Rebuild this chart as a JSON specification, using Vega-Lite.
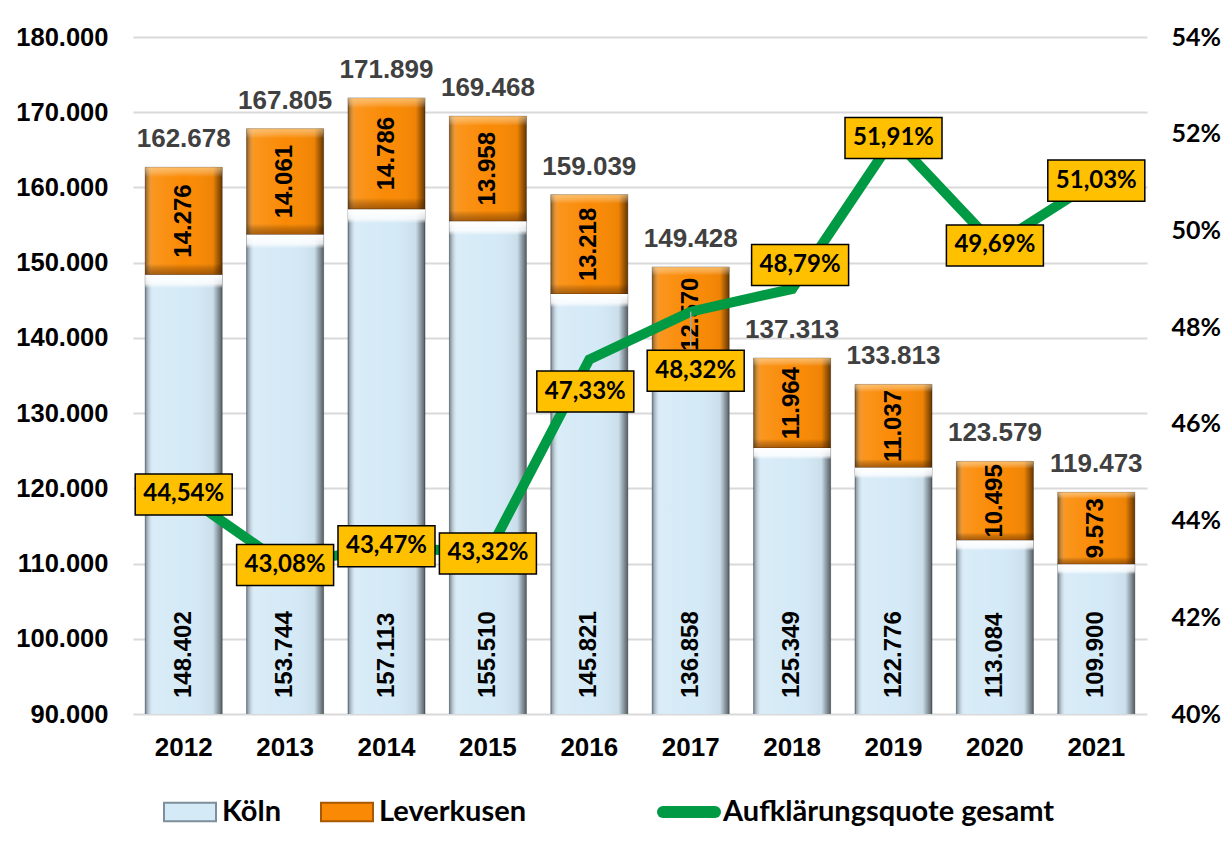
{
  "$schema": "https://vega.github.io/schema/vega-lite/v6.json",
  "width": 1014,
  "height": 677,
  "autosize": "none",
  "padding": {"left": 133, "top": 37, "right": 80, "bottom": 140},
  "background": "white",
  "config": {
    "locale": {"number": {"decimal": ",", "thousands": ".", "grouping": [3], "currency": ["", " €"]}},
    "view": {"stroke": null},
    "font": "Liberation Sans"
  },
  "datasets": {
    "bars": [
      {"year": "2012", "series": "Köln", "value": 148402}, {"year": "2012", "series": "Leverkusen", "value": 14276},
      {"year": "2013", "series": "Köln", "value": 153744}, {"year": "2013", "series": "Leverkusen", "value": 14061},
      {"year": "2014", "series": "Köln", "value": 157113}, {"year": "2014", "series": "Leverkusen", "value": 14786},
      {"year": "2015", "series": "Köln", "value": 155510}, {"year": "2015", "series": "Leverkusen", "value": 13958},
      {"year": "2016", "series": "Köln", "value": 145821}, {"year": "2016", "series": "Leverkusen", "value": 13218},
      {"year": "2017", "series": "Köln", "value": 136858}, {"year": "2017", "series": "Leverkusen", "value": 12570},
      {"year": "2018", "series": "Köln", "value": 125349}, {"year": "2018", "series": "Leverkusen", "value": 11964},
      {"year": "2019", "series": "Köln", "value": 122776}, {"year": "2019", "series": "Leverkusen", "value": 11037},
      {"year": "2020", "series": "Köln", "value": 113084}, {"year": "2020", "series": "Leverkusen", "value": 10495},
      {"year": "2021", "series": "Köln", "value": 109900}, {"year": "2021", "series": "Leverkusen", "value": 9573}
    ],
    "totals": [
      {"year": "2012", "total": 162678}, {"year": "2013", "total": 167805}, {"year": "2014", "total": 171899},
      {"year": "2015", "total": 169468}, {"year": "2016", "total": 159039}, {"year": "2017", "total": 149428},
      {"year": "2018", "total": 137313}, {"year": "2019", "total": 133813}, {"year": "2020", "total": 123579},
      {"year": "2021", "total": 119473}
    ],
    "quote": [
      {"year": "2012", "quote": 0.4454}, {"year": "2013", "quote": 0.4308}, {"year": "2014", "quote": 0.4347},
      {"year": "2015", "quote": 0.4332}, {"year": "2016", "quote": 0.4733}, {"year": "2017", "quote": 0.4832},
      {"year": "2018", "quote": 0.4879}, {"year": "2019", "quote": 0.5191}, {"year": "2020", "quote": 0.4969},
      {"year": "2021", "quote": 0.5103}
    ]
  },
  "encoding": {
    "x": {
      "field": "year", "type": "ordinal", "title": null,
      "scale": {"paddingInner": 0.24, "paddingOuter": 0.12},
      "axis": {"labelFont": "Liberation Sans", "labelFontSize": 26, "labelFontWeight": "bold", "labelColor": "black",
               "labelAngle": 0, "domain": false, "ticks": false, "labelPadding": 20}
    }
  },
  "layer": [
    {
      "data": {"name": "bars"},
      "layer": [
        {
          "mark": {"type": "bar", "clip": true},
          "encoding": {
            "y": {"field": "value", "type": "quantitative", "stack": "zero", "title": null,
                  "scale": {"domain": [90000, 180000], "nice": false, "zero": false},
                  "axis": {"values": [90000, 100000, 110000, 120000, 130000, 140000, 150000, 160000, 170000, 180000],
                           "format": ",d", "labelFont": "Liberation Sans", "labelFontSize": 25.5, "labelFontWeight": "bold",
                           "labelColor": "black", "domain": false, "ticks": false, "labelPadding": 25,
                           "grid": true, "gridColor": "#D9D9D9", "gridWidth": 2}},
            "order": {"field": "series", "type": "nominal", "sort": "ascending"},
            "fill": {"field": "series", "type": "nominal",
                     "scale": {"domain": ["Köln", "Leverkusen"], "range": ["#D5EAF7", "#FA8A05"]},
                     "legend": {"orient": "none", "legendX": 30, "legendY": 748, "direction": "horizontal", "title": null,
                                "padding": 0, "symbolType": "M-1,-0.36L1,-0.36L1,0.36L-1,0.36Z", "symbolSize": 2704,
                                "labelFont": "Lato", "labelFontSize": 29, "labelFontWeight": "bold", "labelColor": "black",
                                "columnPadding": 35, "labelOffset": 5, "labelLimit": 500,
                                "encode": {"symbols": {"update": {
                                  "fill": [{"test": "datum.value === 'Köln'", "value": "#D5EAF7"}, {"value": "#FA8A05"}],
                                  "stroke": [{"test": "datum.value === 'Köln'", "value": "#7E8F9C"}, {"value": "#A85800"}],
                                  "strokeWidth": {"value": 2}, "opacity": {"value": 1}}}}}}
          }
        },
        {
          "mark": {"type": "bar", "clip": true, "stroke": "rgba(0,0,0,0.3)", "strokeWidth": 1,
                   "fill": {"gradient": "linear", "x1": 0, "y1": 0, "x2": 1, "y2": 0,
                            "stops": [{"offset": 0, "color": "rgba(30,40,50,0.55)"},
                                      {"offset": 0.1, "color": "rgba(255,255,255,0.1)"},
                                      {"offset": 0.5, "color": "rgba(255,255,255,0)"},
                                      {"offset": 0.88, "color": "rgba(0,0,0,0.05)"},
                                      {"offset": 1, "color": "rgba(0,0,0,0.6)"}]}},
          "encoding": {
            "y": {"field": "value", "type": "quantitative", "stack": "zero"},
            "order": {"field": "series", "type": "nominal", "sort": "ascending"},
            "detail": {"field": "series"}
          }
        },
        {
          "mark": {"type": "bar", "clip": true},
          "encoding": {
            "y": {"field": "value", "type": "quantitative", "stack": "zero"},
            "order": {"field": "series", "type": "nominal", "sort": "ascending"},
            "detail": {"field": "series"},
            "fill": {
              "condition": {"test": "datum.series === 'Köln'",
                            "value": {"gradient": "linear", "x1": 0, "y1": 0, "x2": 0, "y2": 1,
                                      "stops": [{"offset": 0, "color": "rgba(255,255,255,1)"},
                                                {"offset": 0.008, "color": "rgba(255,255,255,0.8)"},
                                                {"offset": 0.012, "color": "rgba(255,255,255,0)"},
                                                {"offset": 1, "color": "rgba(255,255,255,0)"}]}},
              "value": {"gradient": "linear", "x1": 0, "y1": 0, "x2": 0, "y2": 1,
                        "stops": [{"offset": 0, "color": "rgba(255,220,160,0.6)"},
                                  {"offset": 0.09, "color": "rgba(255,255,255,0)"},
                                  {"offset": 0.9, "color": "rgba(0,0,0,0)"},
                                  {"offset": 1, "color": "rgba(90,40,0,0.5)"}]}
            }
          }
        },
        {
          "mark": {"type": "text", "angle": 270, "align": "center", "baseline": "middle",
                   "font": "Liberation Sans", "fontSize": 24, "fontWeight": "bold", "color": "black"},
          "encoding": {
            "y": {"field": "value", "type": "quantitative", "stack": "zero", "bandPosition": 0.5},
            "order": {"field": "series", "type": "nominal", "sort": "ascending"},
            "detail": {"field": "series"},
            "text": {"condition": {"test": "datum.series === 'Leverkusen'", "field": "value", "type": "quantitative", "format": ",d"}, "value": ""}
          }
        },
        {
          "transform": [{"filter": "datum.series === 'Köln'"}],
          "mark": {"type": "text", "angle": 270, "align": "left", "baseline": "middle", "dx": 16,
                   "font": "Liberation Sans", "fontSize": 24, "fontWeight": "bold", "color": "black"},
          "encoding": {
            "y": {"datum": 90000, "type": "quantitative"},
            "text": {"field": "value", "type": "quantitative", "format": ",d"}
          }
        },
        {
          "data": {"name": "totals"},
          "mark": {"type": "text", "align": "center", "baseline": "alphabetic", "dy": -20,
                   "font": "Liberation Sans", "fontSize": 26, "fontWeight": "bold", "color": "#404040"},
          "encoding": {
            "y": {"field": "total", "type": "quantitative"},
            "text": {"field": "total", "type": "quantitative", "format": ",d"}
          }
        }
      ]
    },
    {
      "data": {"name": "quote"},
      "layer": [
        {
          "mark": {"type": "line", "strokeWidth": 10},
          "encoding": {
            "y": {"field": "quote", "type": "quantitative", "title": null,
                  "scale": {"domain": [0.40, 0.54], "nice": false, "zero": false},
                  "axis": {"orient": "right", "values": [0.40, 0.42, 0.44, 0.46, 0.48, 0.50, 0.52, 0.54], "format": ".0%",
                           "labelFont": "Lato", "labelFontSize": 25, "labelFontWeight": "bold", "labelColor": "black",
                           "domain": false, "ticks": false, "grid": false, "labelPadding": 24}},
            "stroke": {"datum": "Aufklärungsquote gesamt", "type": "nominal",
                       "scale": {"range": ["#009A44"]},
                       "legend": {"orient": "none", "legendX": 524, "legendY": 743, "title": null, "padding": 0,
                                  "symbolType": "stroke", "symbolSize": 2704, "symbolStrokeWidth": 12,
                                  "labelFont": "Lato", "labelFontSize": 29, "labelFontWeight": "bold", "labelColor": "black",
                                  "labelOffset": 2, "labelLimit": 600,
                                  "encode": {"symbols": {"update": {"strokeCap": {"value": "round"}, "stroke": {"value": "#009A44"}}}}}}
          }
        },
        {
          "transform": [{"filter": "datum.year === '2017'"}],
          "mark": {"type": "rule", "stroke": "#A6A6A6", "strokeWidth": 1.5},
          "encoding": {
            "y": {"field": "quote", "type": "quantitative"},
            "y2": {"datum": 0.4755}
          }
        },
        {
          "transform": [{"filter": {"not": {"field": "year", "oneOf": ["2016", "2017", "2018"]}}}],
          "layer": [
            {"mark": {"type": "point", "shape": "M-1,-0.423L1,-0.423L1,0.423L-1,0.423Z", "size": 9409, "filled": true,
                      "fill": "#FFC000", "stroke": "black", "strokeWidth": 1.5, "opacity": 1},
             "encoding": {"y": {"field": "quote", "type": "quantitative"}}},
            {"mark": {"type": "text", "align": "center", "baseline": "middle", "font": "Lato", "fontSize": 24, "fontWeight": "bold", "color": "black"},
             "encoding": {"y": {"field": "quote", "type": "quantitative"}, "text": {"field": "quote", "type": "quantitative", "format": ".2%"}}}
          ]
        },
        {
          "transform": [{"filter": "datum.year === '2016'"}],
          "layer": [
            {"mark": {"type": "point", "shape": "M-1,-0.423L1,-0.423L1,0.423L-1,0.423Z", "size": 9409, "filled": true,
                      "fill": "#FFC000", "stroke": "black", "strokeWidth": 1.5, "opacity": 1, "xOffset": -4, "yOffset": 32},
             "encoding": {"y": {"field": "quote", "type": "quantitative"}}},
            {"mark": {"type": "text", "align": "center", "baseline": "middle", "font": "Lato", "fontSize": 24, "fontWeight": "bold", "color": "black", "xOffset": -4, "yOffset": 32},
             "encoding": {"y": {"field": "quote", "type": "quantitative"}, "text": {"field": "quote", "type": "quantitative", "format": ".2%"}}}
          ]
        },
        {
          "transform": [{"filter": "datum.year === '2017'"}],
          "layer": [
            {"mark": {"type": "point", "shape": "M-1,-0.423L1,-0.423L1,0.423L-1,0.423Z", "size": 9409, "filled": true,
                      "fill": "#FFC000", "stroke": "black", "strokeWidth": 1.5, "opacity": 1, "xOffset": 5, "yOffset": 59},
             "encoding": {"y": {"field": "quote", "type": "quantitative"}}},
            {"mark": {"type": "text", "align": "center", "baseline": "middle", "font": "Lato", "fontSize": 24, "fontWeight": "bold", "color": "black", "xOffset": 5, "yOffset": 59},
             "encoding": {"y": {"field": "quote", "type": "quantitative"}, "text": {"field": "quote", "type": "quantitative", "format": ".2%"}}}
          ]
        },
        {
          "transform": [{"filter": "datum.year === '2018'"}],
          "layer": [
            {"mark": {"type": "point", "shape": "M-1,-0.423L1,-0.423L1,0.423L-1,0.423Z", "size": 9409, "filled": true,
                      "fill": "#FFC000", "stroke": "black", "strokeWidth": 1.5, "opacity": 1, "xOffset": 8, "yOffset": -24},
             "encoding": {"y": {"field": "quote", "type": "quantitative"}}},
            {"mark": {"type": "text", "align": "center", "baseline": "middle", "font": "Lato", "fontSize": 24, "fontWeight": "bold", "color": "black", "xOffset": 8, "yOffset": -24},
             "encoding": {"y": {"field": "quote", "type": "quantitative"}, "text": {"field": "quote", "type": "quantitative", "format": ".2%"}}}
          ]
        }
      ]
    }
  ],
  "resolve": {"scale": {"y": "independent"}}
}
